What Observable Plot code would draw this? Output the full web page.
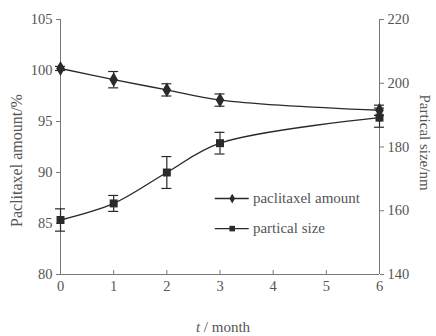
<!DOCTYPE html>
<html><head><meta charset="utf-8">
<script src="https://cdn.jsdelivr.net/npm/d3@7"></script>
<script src="https://cdn.jsdelivr.net/npm/@observablehq/plot@0.6"></script>
<style>body{margin:0;background:#fff}</style>
</head><body><div id="chart"></div>
<script>
const months = [0, 1, 2, 3, 6];
const amount = [100.2, 99.1, 98.1, 97.1, 96.1];
const amountErr = [0.2, 0.8, 0.6, 0.6, 0.5];
const size = [157.1, 162.3, 172.0, 181.2, 189.2];
const sizeErr = [3.5, 2.5, 5.0, 3.4, 3.0];
const xTicks = [0, 1, 2, 3, 4, 5, 6];
const leftTicks = [80, 85, 90, 95, 100, 105];
const rightTicks = [140, 160, 180, 200, 220];
const legendItems = ["paclitaxel amount", "partical size"];
const yLeftLabel = "Paclitaxel amount/%";
const yRightLabel = "Partical size/nm";

// right axis mapping: size 140..220 -> amount 80..105
const toLeft = s => 80 + (s - 140) * 25 / 80;
const toRight = v => 140 + (v - 80) * 80 / 25;

const A = months.map((t, i) => ({t, v: amount[i], e: amountErr[i]}));
const S = months.map((t, i) => ({t, v: toLeft(size[i]), lo: toLeft(size[i] - sizeErr[i]), hi: toLeft(size[i] + sizeErr[i])}));
// legend placed in data coordinates
const legend = [
  {x1: 2.91, x2: 3.55, xm: 3.23, xt: 3.62, y: 87.45, sym: "diamond", r: 4, label: legendItems[0]},
  {x1: 2.91, x2: 3.55, xm: 3.23, xt: 3.62, y: 84.5, sym: "square", r: 4.5, label: legendItems[1]}
];

const ink = "#2a2a2a", axisC = "#777", textC = "#555";
const font = "Liberation Serif, Times New Roman, serif";

const chart = Plot.plot({
  width: 436, height: 336,
  marginLeft: 60, marginRight: 57, marginTop: 19, marginBottom: 62,
  style: {fontFamily: font, fontSize: "14.5px", color: textC, background: "#fff"},
  x: {domain: [0, 6]},
  y: {domain: [80, 105]},
  marks: [
    Plot.axisX({ticks: xTicks, tickSize: -4, tickPadding: 10, stroke: axisC, label: null, tickFormat: d => d}),
    Plot.axisY({ticks: leftTicks, tickSize: 4, tickPadding: 4, stroke: axisC, label: null}),
    Plot.axisY({anchor: "right", ticks: rightTicks.map(toLeft), tickSize: 4, tickPadding: 4, stroke: axisC, tickFormat: v => Math.round(toRight(v)), label: null}),
    Plot.ruleX([0], {stroke: axisC}),
    Plot.ruleX([6], {stroke: axisC}),
    Plot.ruleY([80], {stroke: axisC}),
    // amount series
    Plot.line(A, {x: "t", y: "v", curve: "catmull-rom", stroke: ink, strokeWidth: 1.4}),
    Plot.ruleX(A, {x: "t", y1: d => d.v - d.e, y2: d => d.v + d.e, stroke: ink, strokeWidth: 1.2}),
    Plot.ruleY(A, {x1: "t", x2: "t", y: d => d.v - d.e, insetLeft: -5, insetRight: -5, stroke: ink, strokeWidth: 1.2}),
    Plot.ruleY(A, {x1: "t", x2: "t", y: d => d.v + d.e, insetLeft: -5, insetRight: -5, stroke: ink, strokeWidth: 1.2}),
    Plot.dot(A, {x: "t", y: "v", symbol: "diamond", r: 4.5, fill: ink, stroke: "none"}),
    // size series
    Plot.line(S, {x: "t", y: "v", curve: "catmull-rom", stroke: ink, strokeWidth: 1.4}),
    Plot.ruleX(S, {x: "t", y1: "lo", y2: "hi", stroke: ink, strokeWidth: 1.2}),
    Plot.ruleY(S, {x1: "t", x2: "t", y: "lo", insetLeft: -5, insetRight: -5, stroke: ink, strokeWidth: 1.2}),
    Plot.ruleY(S, {x1: "t", x2: "t", y: "hi", insetLeft: -5, insetRight: -5, stroke: ink, strokeWidth: 1.2}),
    Plot.dot(S, {x: "t", y: "v", symbol: "square", r: 4.5, fill: ink, stroke: "none"}),
    // legend
    Plot.ruleY(legend, {x1: "x1", x2: "x2", y: "y", stroke: ink, strokeWidth: 1.3}),
    Plot.dot(legend, {x: "xm", y: "y", symbol: "sym", r: "r", fill: ink, stroke: "none"}),
    Plot.text(legend, {x: "xt", y: "y", text: "label", textAnchor: "start", fill: textC, fontSize: 15}),
    // axis titles
    Plot.text([yLeftLabel], {frameAnchor: "left", textAnchor: "middle", dx: -44, dy: 13.5, rotate: -90, text: d => d, fill: textC, fontSize: 16}),
    Plot.text([yRightLabel], {frameAnchor: "right", textAnchor: "middle", dx: 45, dy: -4.5, rotate: 90, text: d => d, fill: textC, fontSize: 15}),
    Plot.text(["t / month"], {frameAnchor: "bottom", dx: 3, dy: 57, text: d => d, fill: textC, fontSize: 15, className: "xlab"})
  ]
});
document.getElementById("chart").append(chart);
// italic t in the x label
d3.select(chart).selectAll(".xlab text").each(function() {
  const t = d3.select(this);
  t.text(null);
  t.append("tspan").attr("font-style", "italic").text("t");
  t.append("tspan").text(" / month");
});
</script>
</body></html>
